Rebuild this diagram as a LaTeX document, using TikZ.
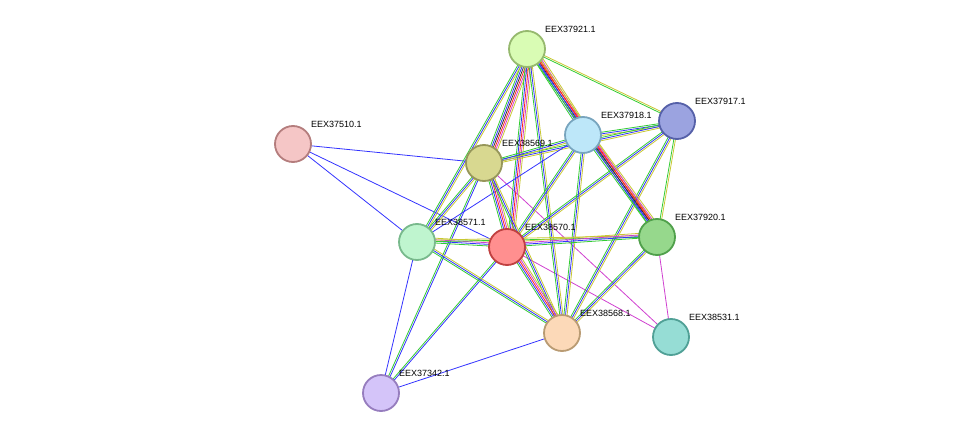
\documentclass[tikz,border=0pt]{standalone}
\usepackage{fontspec}
\setmainfont{Liberation Sans}
\usetikzlibrary{calc}
\definecolor{eg}{HTML}{33CC33}
\definecolor{eb}{HTML}{3333FF}
\definecolor{ey}{HTML}{C8C832}
\definecolor{er}{HTML}{FF2020}
\definecolor{em}{HTML}{D040D0}
\definecolor{ek}{HTML}{303030}
\tikzset{prot/.style={circle,draw,line width=1.8pt,minimum size=36pt,inner sep=0pt},
  lab/.style={font=\fontsize{9}{11}\selectfont,anchor=south west,inner sep=1pt}}
% parallel coloured links between two proteins
\newcommand{\link}[3]{%
  \foreach \c [count=\k] in {#3} {
    \pgfmathsetmacro{\off}{(\k-1)*1.6}
    \draw[\c,line width=0.8pt] ($(#1)!\off pt!90:(#2)$) -- ($(#2)!\off pt!-90:(#1)$);
  }}
\begin{document}
\begin{tikzpicture}[x=1pt,y=-1pt]
\useasboundingbox (0,0) rectangle (975,439);
\coordinate (c21) at (527,49);
\coordinate (c17) at (677,121);
\coordinate (c18) at (583,135);
\coordinate (c10) at (293,144);
\coordinate (c69) at (484,163);
\coordinate (c71) at (417,242);
\coordinate (c70) at (507,247);
\coordinate (c20) at (657,237);
\coordinate (c68) at (562,333);
\coordinate (c31) at (671,337);
\coordinate (c42) at (381,393);
%
\link{c10}{c69}{eb}
\link{c10}{c71}{eb}
\link{c10}{c70}{eb}
\link{c71}{c42}{eb}
\link{c70}{c42}{eg,eb}
\link{c69}{c42}{eg,eb}
\link{c68}{c42}{eb}
\link{c69}{c31}{em}
\link{c70}{c31}{em}
\link{c20}{c31}{em}
\link{c21}{c17}{eg,ey}
\link{c21}{c18}{eg,eb,ek,er,em,ey}
\link{c21}{c69}{eg,eb,ek,er,em,ey}
\link{c21}{c71}{eg,eb,ey}
\link{c21}{c70}{eg,eb,er,em,ey}
\link{c21}{c20}{eg,eb,er,ey}
\link{c21}{c68}{eg,eb,ey}
\link{c17}{c18}{eg,eb,ey}
\link{c17}{c69}{eg,eb,ey}
\link{c17}{c20}{eg,ey}
\link{c17}{c70}{eg,eb,ey}
\link{c17}{c68}{eg,eb,ey}
\link{c18}{c69}{eg,eb,ey}
\link{c18}{c71}{eb}
\link{c18}{c70}{eg,eb,ey}
\link{c18}{c20}{eg,eb,ek,er,em,ey}
\link{c18}{c68}{eg,eb,ey}
\link{c69}{c71}{eg,eb,ey}
\link{c69}{c70}{eg,eb,er,em,ey}
\link{c69}{c68}{eg,eb,ey}
\link{c71}{c70}{eg,eb,em,ey}
\link{c71}{c68}{eg,eb,ey}
\link{c71}{c20}{eg,ey}
\link{c70}{c20}{eg,eb,em,ey}
\link{c70}{c68}{eg,eb,er,em,ey}
\link{c20}{c68}{eg,eb,ey}
%
\node[prot,fill={rgb,255:red,217;green,252;blue,180},draw={rgb,255:red,150;green,185;blue,110}] (n21) at (c21) {};
\node[prot,fill={rgb,255:red,155;green,163;blue,224},draw={rgb,255:red,85;green,96;blue,168}] (n17) at (c17) {};
\node[prot,fill={rgb,255:red,189;green,231;blue,249},draw={rgb,255:red,120;green,165;blue,190}] (n18) at (c18) {};
\node[prot,fill={rgb,255:red,245;green,198;blue,198},draw={rgb,255:red,180;green,125;blue,125}] (n10) at (c10) {};
\node[prot,fill={rgb,255:red,216;green,216;blue,144},draw={rgb,255:red,150;green,150;blue,90}] (n69) at (c69) {};
\node[prot,fill={rgb,255:red,191;green,245;blue,207},draw={rgb,255:red,120;green,185;blue,140}] (n71) at (c71) {};
\node[prot,fill={rgb,255:red,255;green,143;blue,143},draw={rgb,255:red,192;green,64;blue,64}] (n70) at (c70) {};
\node[prot,fill={rgb,255:red,150;green,216;blue,140},draw={rgb,255:red,80;green,160;blue,75}] (n20) at (c20) {};
\node[prot,fill={rgb,255:red,252;green,217;blue,184},draw={rgb,255:red,185;green,155;blue,115}] (n68) at (c68) {};
\node[prot,fill={rgb,255:red,150;green,221;blue,213},draw={rgb,255:red,80;green,160;blue,150}] (n31) at (c31) {};
\node[prot,fill={rgb,255:red,212;green,196;blue,249},draw={rgb,255:red,150;green,125;blue,190}] (n42) at (c42) {};
%
\node[lab] at ($(c21)+(17,-15)$) {EEX37921.1};
\node[lab] at ($(c17)+(17,-15)$) {EEX37917.1};
\node[lab] at ($(c18)+(17,-15)$) {EEX37918.1};
\node[lab] at ($(c10)+(17,-15)$) {EEX37510.1};
\node[lab] at ($(c69)+(17,-15)$) {EEX38569.1};
\node[lab] at ($(c71)+(17,-15)$) {EEX38571.1};
\node[lab] at ($(c70)+(17,-15)$) {EEX38570.1};
\node[lab] at ($(c20)+(17,-15)$) {EEX37920.1};
\node[lab] at ($(c68)+(17,-15)$) {EEX38568.1};
\node[lab] at ($(c31)+(17,-15)$) {EEX38531.1};
\node[lab] at ($(c42)+(17,-15)$) {EEX37342.1};
\end{tikzpicture}
\end{document}
